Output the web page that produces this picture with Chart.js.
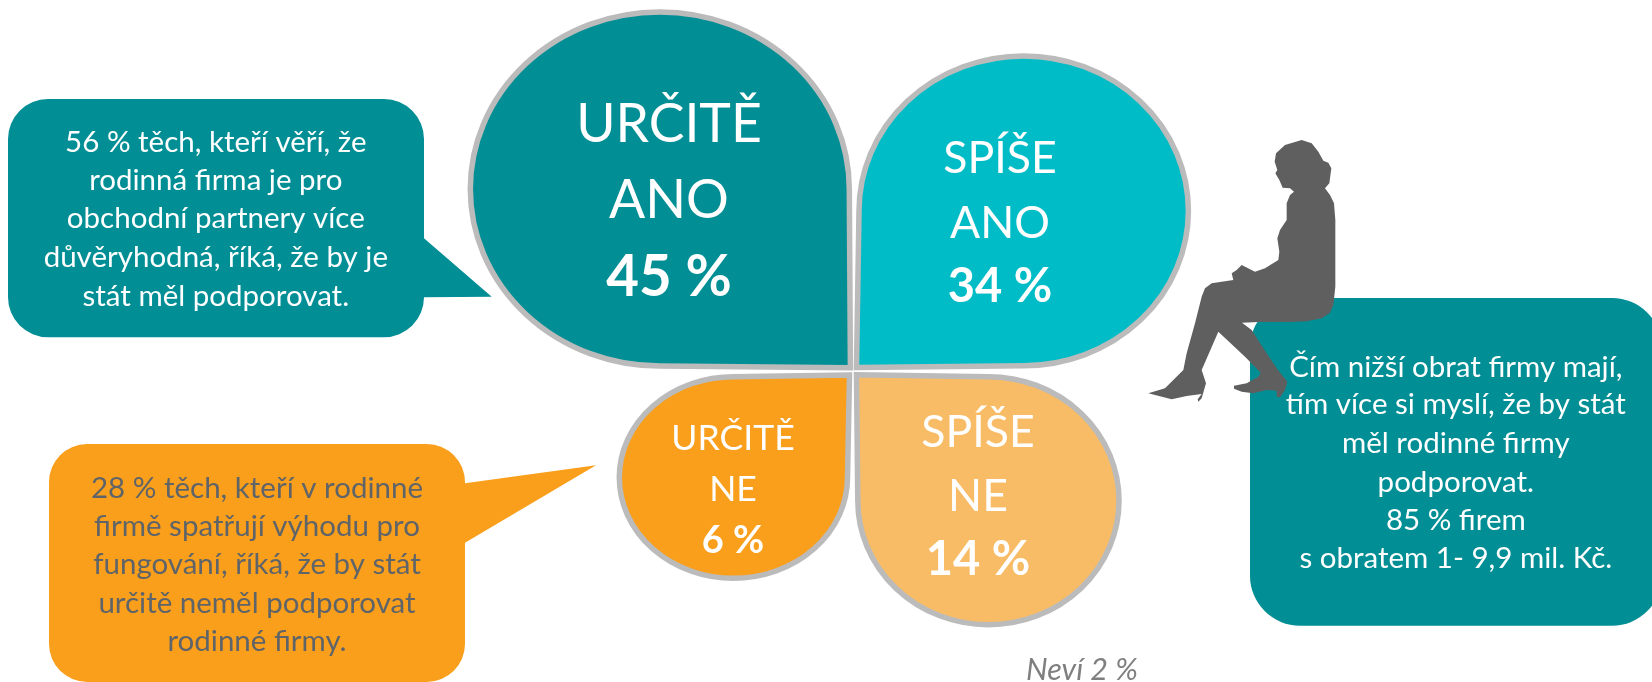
<!DOCTYPE html>
<html lang="cs">
<head>
<meta charset="utf-8">
<title>Rodinné firmy</title>
<style>
html,body{margin:0;padding:0;background:#fff;overflow:hidden}
#wrap{position:relative;width:1652px;height:682px}
canvas{display:block}
</style>
<script src="https://cdn.jsdelivr.net/npm/chart.js@4/dist/chart.umd.js"></script>
</head>
<body>
<div id="wrap"><canvas id="c" width="1652" height="682"></canvas></div>
<script>
// ---------- data ----------
const categories = ['URČITĚ ANO', 'SPÍŠE ANO', 'URČITĚ NE', 'SPÍŠE NE'];
const shares = [45, 34, 6, 14];
const unknownLabel = 'Neví';
const unknownShare = 2;
const noteLeft = ['56 % těch, kteří věří, že', 'rodinná firma je pro', 'obchodní partnery více', 'důvěryhodná, říká, že by je', 'stát měl podporovat.'];
const noteOrange = ['28 % těch, kteří v rodinné', 'firmě spatřují výhodu pro', 'fungování, říká, že by stát', 'určitě neměl podporovat', 'rodinné firmy.'];
const noteRight = ['Čím nižší obrat firmy mají,', 'tím více si myslí, že by stát', 'měl rodinné firmy', 'podporovat.', '85 % firem', 's obratem 1- 9,9 mil. Kč.'];

// ---------- layout and style (page units of the hidden layout scales) ----------
const FONT = 'Lato, "Noto Sans", sans-serif';
const TEAL = '#028E95', CYAN = '#00BCC7', ORANGE = '#F99F1C', PEACH = '#F9BC66', GREY = '#BBBBBB';
const petalColors = [TEAL, CYAN, ORANGE, PEACH];
// ellipse centre + radii, and the pointed corner at the hub of the clover
const petalShapes = [
  {cx: 659.8, cy: 189, rx: 189.5, ry: 177, tipX: 850.4, tipY: 367.8},
  {cx: 1023.7, cy: 210.8, rx: 164.7, ry: 154.9, tipX: 856.5, tipY: 367.5},
  {cx: 733.4, cy: 477.5, rx: 114.1, ry: 100.8, tipX: 849.5, tipY: 375},
  {cx: 988.4, cy: 500.7, rx: 130.6, ry: 124, tipX: 856.5, tipY: 374.7}
];
const petalText = [
  {x: 669, base: [141.7, 218.3, 296], size: 53.5, boldSize: 56.5},
  {x: 1000, base: [173.3, 237.7, 302.3], size: 44.6, boldSize: 47},
  {x: 733, base: [450, 500.7, 552.7], size: 35.6, boldSize: 38},
  {x: 978, base: [447.3, 510.7, 575], size: 44.6, boldSize: 47}
];
const callouts = [
  {l: 8, t: 99, r: 424, b: 337.3, rad: 40, fill: TEAL, tail: [[424, 297.3], [491.7, 296.7], [424, 238.3]]},
  {l: 49, t: 444, r: 465, b: 682, rad: 38, fill: ORANGE, tail: [[465, 542.7], [596, 465.3], [465, 483.3]]},
  {l: 1250, t: 298, r: 1662, b: 625.7, rad: 50, fill: TEAL, tail: null}
];
const noteBlocks = [
  {lines: noteLeft, x: 215.8, base: [151.7, 190, 228.3, 266.7, 306], size: 29.5, color: '#FFFFFF'},
  {lines: noteOrange, x: 257, base: [498.3, 536.4, 574.3, 613, 650.7], size: 29.5, color: '#5F6469'},
  {lines: noteRight, x: 1455.8, base: [376.7, 414.3, 453, 491.7, 530, 568], size: 29.5, color: '#FFFFFF'}
];
const silhouette = [[515,60],[545,70],[565,95],[580,122],[595,128],[604,145],[598,190],[585,205],[600,225],[612,250],[616,300],[616,500],[610,555],[600,578],[575,595],[530,604],[480,606],[385,606],[336,608],[365,630],[400,685],[440,745],[472,785],[465,810],[450,832],[440,830],[440,812],[410,810],[370,820],[335,815],[312,806],[312,797],[350,790],[385,770],[392,758],[345,710],[265,635],[215,750],[228,790],[215,835],[205,845],[203,838],[215,822],[170,828],[125,838],[55,820],[105,805],[160,750],[170,700],[195,610],[215,530],[225,505],[245,490],[310,480],[305,460],[320,450],[335,435],[375,455],[405,445],[445,420],[448,395],[442,355],[450,330],[470,300],[470,250],[480,225],[492,215],[480,205],[458,203],[448,180],[436,160],[442,150],[434,125],[438,100],[465,75]];
const silhouetteOrigin = {x: 1130, y: 120, scale: 3};

// ---------- a bar element drawn as a teardrop petal ----------
class PetalElement extends Chart.BarElement {
  static id = 'petal';
  draw(ctx) {
    const g = this.petal;
    if (!g) return;
    const o = this.options;
    const sx = Math.sign(g.tipX - g.cx), sy = Math.sign(g.tipY - g.cy);
    const a1 = sx > 0 ? 0 : Math.PI;                // horizontal extreme next to the tip
    const a2 = sy > 0 ? Math.PI / 2 : -Math.PI / 2; // vertical extreme next to the tip
    ctx.save();
    ctx.beginPath();
    ctx.moveTo(g.tipX, g.tipY);
    ctx.lineTo(g.cx, g.cy + sy * g.ry);
    ctx.ellipse(g.cx, g.cy, g.rx, g.ry, 0, a2, a1, sx * sy < 0);
    ctx.closePath();
    ctx.fillStyle = o.backgroundColor;
    ctx.fill();
    ctx.lineWidth = o.borderWidth;
    ctx.strokeStyle = o.borderColor;
    ctx.lineJoin = 'miter';
    ctx.miterLimit = 4;
    ctx.stroke();
    ctx.restore();
  }
}
class PetalController extends Chart.BarController {
  static id = 'petal';
  static defaults = {...Chart.BarController.defaults, dataElementType: 'petal'};
  updateElements(bars, start, count, mode) {
    super.updateElements(bars, start, count, mode);
    const X = this.chart.scales.layoutX, Y = this.chart.scales.layoutY;
    for (let i = start; i < start + count; i++) {
      const s = petalShapes[i];
      const cx = X.getPixelForValue(s.cx), cy = Y.getPixelForValue(s.cy);
      bars[i].petal = {
        cx, cy,
        rx: X.getPixelForValue(s.cx + s.rx) - cx,
        ry: Y.getPixelForValue(s.cy + s.ry) - cy,
        tipX: X.getPixelForValue(s.tipX), tipY: Y.getPixelForValue(s.tipY)
      };
    }
  }
}
Chart.register(PetalElement, PetalController);

function text(ctx, str, x, y, font, color, align) {
  ctx.font = font; ctx.fillStyle = color; ctx.textAlign = align || 'center'; ctx.textBaseline = 'alphabetic';
  ctx.fillText(str, x, y);
}
function calloutPath(ctx, c, X, Y) {
  const l = X.getPixelForValue(c.l), r = X.getPixelForValue(c.r), t = Y.getPixelForValue(c.t), b = Y.getPixelForValue(c.b);
  ctx.beginPath();
  ctx.moveTo(l + c.rad, t);
  ctx.arcTo(r, t, r, b, c.rad);
  if (c.tail) {
    c.tail.slice().reverse().forEach(p => ctx.lineTo(X.getPixelForValue(p[0]), Y.getPixelForValue(p[1])));
  }
  ctx.arcTo(r, b, l, b, c.rad);
  ctx.arcTo(l, b, l, t, c.rad);
  ctx.arcTo(l, t, r, t, c.rad);
  ctx.closePath();
}
const cloverPlugin = {
  id: 'clover',
  beforeDatasetsDraw(chart) {
    const {ctx, scales: {layoutX: X, layoutY: Y}} = chart;
    ctx.save();
    callouts.forEach(c => { calloutPath(ctx, c, X, Y); ctx.fillStyle = c.fill; ctx.fill(); });
    ctx.restore();
  },
  afterDatasetsDraw(chart) {
    const {ctx, scales: {layoutX: X, layoutY: Y}} = chart;
    ctx.save();
    ctx.beginPath();
    silhouette.forEach((p, i) => {
      const x = X.getPixelForValue(silhouetteOrigin.x + p[0] / silhouetteOrigin.scale);
      const y = Y.getPixelForValue(silhouetteOrigin.y + p[1] / silhouetteOrigin.scale);
      i ? ctx.lineTo(x, y) : ctx.moveTo(x, y);
    });
    ctx.closePath();
    ctx.fillStyle = '#5F5F5F';
    ctx.fill();
    const values = chart.data.datasets[0].data;
    chart.data.labels.forEach((label, i) => {
      const t = petalText[i], words = label.split(' '), x = X.getPixelForValue(t.x);
      text(ctx, words[0], x, Y.getPixelForValue(t.base[0]), `400 ${t.size}px ${FONT}`, '#FFFFFF');
      text(ctx, words[1], x, Y.getPixelForValue(t.base[1]), `400 ${t.size}px ${FONT}`, '#FFFFFF');
      text(ctx, values[i] + ' %', x, Y.getPixelForValue(t.base[2]), `700 ${t.boldSize}px ${FONT}`, '#FFFFFF');
    });
    noteBlocks.forEach(b => b.lines.forEach((line, i) => {
      text(ctx, line, X.getPixelForValue(b.x), Y.getPixelForValue(b.base[i]), `400 ${b.size}px ${FONT}`, b.color);
    }));
    text(ctx, `${unknownLabel} ${unknownShare} %`, X.getPixelForValue(1082), Y.getPixelForValue(680), `italic 400 30.5px ${FONT}`, '#7F7F7F');
    ctx.restore();
  }
};

new Chart(document.getElementById('c'), {
  type: 'petal',
  data: {
    labels: categories,
    datasets: [{
      label: 'Podíl odpovědí (%)',
      data: shares,
      backgroundColor: petalColors,
      borderColor: GREY,
      borderWidth: 5.5
    }]
  },
  plugins: [cloverPlugin],
  options: {
    responsive: false,
    animation: false,
    layout: {padding: 0},
    plugins: {legend: {display: false}, tooltip: {enabled: false}, title: {display: false}},
    scales: {
      x: {type: 'category', display: false},
      y: {type: 'linear', display: false, min: 0, max: 100},
      layoutX: {type: 'linear', axis: 'x', display: false, offset: false, min: 0, max: 1652},
      layoutY: {type: 'linear', axis: 'y', display: false, offset: false, min: 0, max: 682, reverse: true}
    }
  }
});
</script>
</body>
</html>
